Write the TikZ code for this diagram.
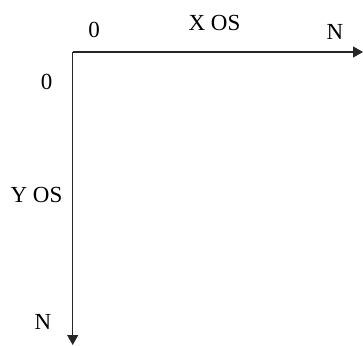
\documentclass[tikz,border=0pt]{standalone}
\usepackage{fontspec}
\setmainfont{Liberation Serif}
\usetikzlibrary{arrows.meta}
\begin{document}
\begin{tikzpicture}[x=1pt,y=1pt,
  axis/.style={line width=1.2pt,draw=black!85,-{Triangle[length=10pt,width=11pt]}},
  lbl/.style={font=\fontsize{23}{26}\selectfont,inner sep=0pt}]
\useasboundingbox (0,0) rectangle (363,345);
\coordinate (o) at (72.7,293);
\coordinate (xe) at (363,293);
\coordinate (ye) at (72.7,0);
\draw[axis] (o) -- (xe);
\draw[axis] (o) -- (ye);
\node[lbl] (x0) at (94,315) {0};
\node[lbl] (xos) at (214.5,322) {X OS};
\node[lbl] (xn) at (335,313) {N};
\node[lbl] (y0) at (46.7,263) {0};
\node[lbl] (yos) at (36.5,150) {Y OS};
\node[lbl] (yn) at (43,23) {N};
\end{tikzpicture}
\end{document}
